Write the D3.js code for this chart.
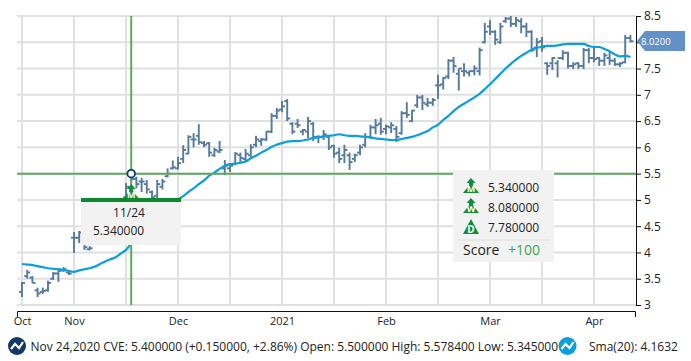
<!DOCTYPE html>
<html><head><meta charset="utf-8">
<script src="https://cdnjs.cloudflare.com/ajax/libs/d3/7.8.5/d3.min.js"></script>
<style>html,body{margin:0;padding:0;background:#fff}svg{display:block}text{font-family:"Open Sans",sans-serif;fill:#222}</style>
</head><body><svg id="c" width="691" height="361"></svg>
<script>
const high=[3.44,3.67,3.55,3.33,3.33,3.46,3.63,3.70,3.72,3.64,
4.39,4.41,4.30,4.12,4.35,4.5,4.6,4.75,4.85,4.95,
5.32,5.578,5.44,5.42,5.38,5.18,5.38,5.40,5.60,5.75,
5.82,6.04,6.23,6.27,6.44,6.12,6.10,5.99,6.12,5.76,
5.70,5.91,5.90,5.97,6.06,6.22,6.18,6.31,6.65,6.75,
6.88,6.92,6.48,6.54,6.35,6.58,6.48,6.23,6.33,6.22,
6.05,5.99,6.05,5.90,5.88,6.05,6.27,6.43,6.54,6.56,
6.43,6.48,6.41,6.69,6.86,6.71,7.00,7.00,6.94,6.94,
7.38,7.34,7.68,7.72,7.50,7.60,7.46,7.56,7.90,8.37,
8.42,8.23,8.37,8.48,8.50,8.48,8.46,8.37,8.23,8.08,
8.10,7.62,7.72,7.66,7.85,7.82,7.62,7.62,7.89,7.89,
7.90,7.72,7.80,7.82,7.70,7.62,8.14,8.14];
const low=[3.15,3.50,3.42,3.15,3.21,3.25,3.48,3.44,3.63,3.57,
3.99,4.18,4.05,4.04,4.15,4.3,4.4,4.5,4.6,4.7,
5.00,5.345,5.22,5.15,5.12,5.00,5.03,5.20,5.43,5.58,
5.58,5.70,5.87,6.00,6.05,6.00,5.82,5.82,5.89,5.47,
5.53,5.66,5.70,5.72,5.80,6.00,6.03,6.12,6.27,6.54,
6.67,6.50,6.25,6.37,6.23,6.18,6.12,6.08,6.14,5.95,
5.80,5.70,5.70,5.57,5.72,5.85,6.00,6.16,6.25,6.24,
6.25,6.27,6.10,6.24,6.56,6.48,6.75,6.71,6.77,6.79,
6.92,7.10,7.30,7.42,7.08,7.35,7.35,7.37,7.37,7.98,
8.14,7.95,7.97,8.37,8.29,8.29,8.17,8.10,7.82,7.72,
7.82,7.38,7.47,7.33,7.66,7.50,7.49,7.49,7.49,7.60,
7.62,7.55,7.55,7.57,7.55,7.53,7.60,8.00];
const open=[3.25,3.55,3.52,3.28,3.25,3.28,3.5,3.6,3.66,3.62,
4.28,4.28,4.2,4.06,4.2,4.35,4.5,4.6,4.7,4.8,
5.05,5.5,5.4,5.35,5.3,5.15,5.08,5.25,5.45,5.6,
5.6,5.78,5.88,6.15,6.22,6.08,6.08,5.85,5.92,5.6,
5.6,5.68,5.85,5.78,5.85,6.05,6.12,6.15,6.3,6.6,
6.72,6.88,6.45,6.45,6.3,6.3,6.45,6.2,6.2,6.2,
6.03,5.9,5.85,5.85,5.78,5.9,6.05,6.2,6.38,6.45,
6.35,6.38,6.35,6.27,6.65,6.5,6.8,6.95,6.82,6.85,
7.18,7.2,7.35,7.65,7.4,7.45,7.42,7.45,7.45,8.0,
8.3,8.2,8.0,8.4,8.45,8.35,8.4,8.3,8.2,7.9,
8.02,7.6,7.6,7.6,7.7,7.8,7.55,7.6,7.55,7.85,
7.7,7.7,7.65,7.7,7.65,7.58,7.62,8.08];
const close=[3.42,3.62,3.42,3.22,3.27,3.42,3.6,3.65,3.68,3.6,
4.28,4.38,4.1,4.08,4.3,4.45,4.55,4.7,4.78,4.9,
5.25,5.4,5.3,5.35,5.2,5.05,5.3,5.35,5.5,5.62,
5.7,5.95,6.2,6.15,6.1,6.05,5.9,5.95,5.95,5.65,
5.65,5.88,5.8,5.88,6.0,6.15,6.15,6.3,6.6,6.7,
6.78,6.55,6.3,6.42,6.33,6.5,6.2,6.2,6.25,6.0,
5.88,5.78,5.95,5.72,5.85,6.0,6.2,6.38,6.42,6.3,
6.4,6.42,6.2,6.65,6.62,6.7,6.95,6.85,6.85,6.9,
7.18,7.32,7.65,7.55,7.5,7.45,7.45,7.5,7.85,8.2,
8.2,8.05,8.3,8.45,8.35,8.42,8.3,8.2,7.85,8.0,
7.9,7.55,7.7,7.7,7.8,7.55,7.58,7.55,7.85,7.7,
7.68,7.65,7.75,7.65,7.58,7.6,8.08,8.02];
const sma=[3.78,3.77,3.76,3.74,3.72,3.70,3.69,3.68,3.67,3.65,
3.63,3.66,3.68,3.70,3.73,3.78,3.83,3.87,3.91,3.98,
4.05,4.16,4.22,4.3,4.37,4.45,4.52,4.6,4.7,4.85,
5.0,5.07,5.15,5.22,5.3,5.37,5.46,5.52,5.59,5.65,
5.68,5.69,5.71,5.73,5.79,5.84,5.9,5.95,6.01,6.05,
6.08,6.11,6.12,6.12,6.13,6.15,6.18,6.19,6.21,6.22,
6.23,6.25,6.23,6.22,6.22,6.21,6.2,6.19,6.17,6.16,
6.15,6.14,6.14,6.16,6.18,6.2,6.23,6.27,6.31,6.38,
6.43,6.52,6.6,6.69,6.77,6.83,6.89,6.95,7.02,7.11,
7.2,7.3,7.4,7.5,7.59,7.67,7.74,7.8,7.86,7.89,
7.92,7.93,7.93,7.94,7.96,7.97,7.97,7.97,7.97,7.93,
7.91,7.91,7.87,7.83,7.77,7.73,7.74,7.72];
const xTickIdx=[0,10,30,50,70,90,110];
const xTickLabels=["Oct","Nov","Dec","2021","Feb","Mar","Apr"];
const xGridIdx=[0,10,20,30,40,50,60,70,80,90,100,110];
const yTicks=[3,3.5,4,4.5,5,5.5,6,6.5,7,7.5,8,8.5];
const selIdx=21, selPrice=5.5, lastPrice=8.02;
const scoreVals=["5.340000","8.080000","7.780000"];
const scoreLetters=["M","W","D"];

const svg=d3.select("#c");
const x=d3.scaleLinear().domain([0,117]).range([22,630.4]);
const y=d3.scaleLinear().domain([3,8.5]).range([305,16]);
const L=17,R=636;
const grid=svg.append("g").attr("stroke","#e0e0e0").attr("stroke-width",2);
yTicks.forEach(t=>grid.append("line").attr("x1",L).attr("x2",R).attr("y1",y(t)).attr("y2",y(t)));
xGridIdx.forEach(t=>grid.append("line").attr("x1",x(t)).attr("x2",x(t)).attr("y1",y(8.5)).attr("y2",y(3)));

const bars=svg.append("g").attr("stroke","#557a9c").attr("stroke-width",1.9).attr("fill","none");
high.forEach((h,i)=>{
  const g=bars.append("g");
  g.append("line").attr("x1",x(i)).attr("x2",x(i)).attr("y1",y(h)).attr("y2",y(low[i]));
  g.append("line").attr("x1",x(i)-3).attr("x2",x(i)).attr("y1",y(open[i])).attr("y2",y(open[i]));
  g.append("line").attr("x1",x(i)).attr("x2",x(i)+3).attr("y1",y(close[i])).attr("y2",y(close[i]));
});
svg.append("path").datum(sma).attr("fill","none").attr("stroke","#0a9fdc").attr("stroke-width",2.2)
  .attr("d",d3.line().x((d,i)=>x(i)).y(d=>y(d)).curve(d3.curveMonotoneX));

// crosshair
const green="#5fa862";
svg.append("line").attr("x1",L).attr("x2",R).attr("y1",y(selPrice)).attr("y2",y(selPrice)).attr("stroke",green).attr("stroke-width",2);
svg.append("line").attr("x1",x(selIdx)).attr("x2",x(selIdx)).attr("y1",y(8.5)).attr("y2",y(3)).attr("stroke",green).attr("stroke-width",2);

function icon(g,cx,base,letter,arrow){
  const dark="#0f8f3a",w=16;
  const h=arrow?10:15;
  g.append("path").attr("fill",dark).attr("d",`M${cx-w/2},${base}L${cx},${base-h}L${cx+w/2},${base}Z`);
  if(arrow){g.append("path").attr("fill",dark)
    .attr("d",`M${cx},${base-15}L${cx+4.5},${base-10}L${cx+2},${base-10}L${cx+2},${base-6}L${cx-2},${base-6}L${cx-2},${base-10}L${cx-4.5},${base-10}Z`);}
  g.append("text").attr("x",cx).attr("y",base-1.5).attr("text-anchor","middle").style("font-size",arrow?"9px":"10px").style("font-weight",700).style("fill","#fff").text(letter);
}
// marker & tooltip
icon(svg.append("g"),x(selIdx),199,"M",true);
svg.append("circle").attr("cx",x(selIdx)).attr("cy",y(selPrice)).attr("r",3.8).attr("fill","#fff").attr("stroke","#12386b").attr("stroke-width",1.8);
svg.append("rect").attr("x",81).attr("y",198).attr("width",100).attr("height",47).attr("fill","#f2f2f2");
svg.append("rect").attr("x",81).attr("y",198).attr("width",100).attr("height",4).attr("fill","#0a8a2e");
svg.append("text").attr("x",129).attr("y",217).attr("text-anchor","middle").style("font-size","12px").text("11/24");
svg.append("text").attr("x",93).attr("y",235).style("font-size","12px").text("5.340000");

// axes (the label at 8 sits beneath the price tag in the reference, so it is not shown)
const yAxis=d3.axisRight(y).tickValues(yTicks).tickFormat(d=>d===8?"":String(d)).tickSize(5).tickPadding(3);
const ya=svg.append("g").attr("transform",`translate(${R},0)`).call(yAxis);
ya.selectAll("path,line").attr("stroke","#111");ya.selectAll("text").style("font-size","12px").style("font-family",'"Open Sans",sans-serif').attr("fill","#222");
const xAxis=d3.axisBottom(x).tickValues(xTickIdx).tickFormat((d,i)=>xTickLabels[i]).tickSize(0).tickPadding(6);
const xa=svg.append("g").attr("transform","translate(0,311)").call(xAxis);
xa.select("path").remove();
xa.selectAll("text").style("font-size","11px").style("font-family",'"Open Sans",sans-serif').attr("fill","#222");
svg.append("path").attr("fill","none").attr("stroke","#111").attr("d",`M17.5,317V311.5H${R-.5}V317`);

// price tag
svg.append("path").attr("fill","#6490c8").attr("d",`M637,41L645,31H685V51H645Z`);
svg.append("text").attr("x",641).attr("y",44.5).style("font-size","9.5px").style("fill","#fff").text(lastPrice.toFixed(4));

// score box
svg.append("rect").attr("x",453).attr("y",170).attr("width",101).attr("height",92).attr("fill","#f2f2f2");
scoreVals.forEach((v,i)=>{
  icon(svg.append("g"),471,[193,213,234][i],scoreLetters[i],i<2);
  svg.append("text").attr("x",488).attr("y",[192,212,232][i]).style("font-size","12px").text(v);
});
svg.append("line").attr("x1",458).attr("x2",550).attr("y1",240).attr("y2",240).attr("stroke","#e4e4e4").attr("stroke-width",1.5);
svg.append("text").attr("x",463).attr("y",255).style("font-size","14px").text("Score");
svg.append("text").attr("x",508).attr("y",255).style("font-size","14px").style("fill","#3aa655").text("+100");

// footer
function badge(cx,col){
  svg.append("circle").attr("cx",cx).attr("cy",346).attr("r",9).attr("fill",col);
  svg.append("path").attr("fill","none").attr("stroke","#fff").attr("stroke-width",2.2).attr("d",`M${cx-6},349L${cx-2},344L${cx+2},348L${cx+6},342`);
}
badge(17,"#12386b");badge(567.5,"#0a9fe0");
svg.append("text").attr("x",30.5).attr("y",350.5).style("font-size","12px").text("Nov 24,2020 CVE: 5.400000 (+0.150000, +2.86%) Open: 5.500000 High: 5.578400 Low: 5.345000");
svg.append("text").attr("x",589).attr("y",350.5).style("font-size","12px").text("Sma(20): 4.1632");
</script></body></html>
